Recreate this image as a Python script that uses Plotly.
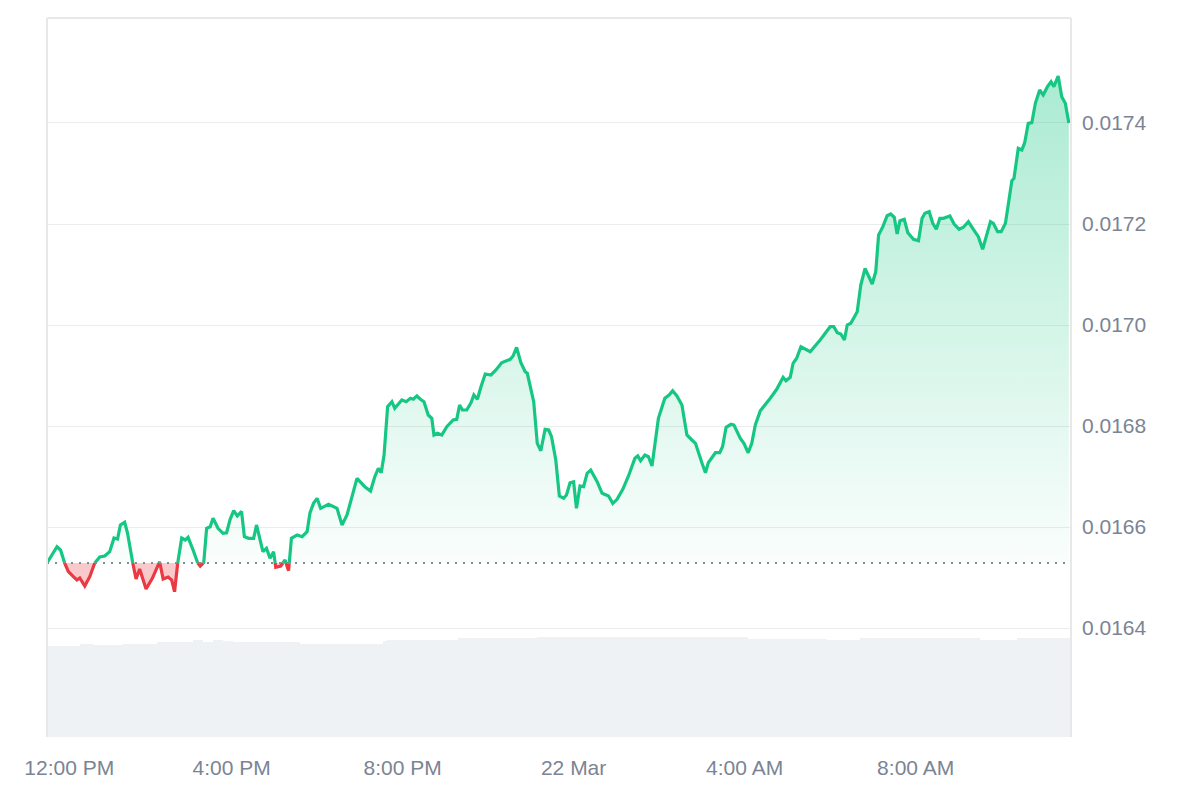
import pandas as pd
import plotly.graph_objects as go

# ---------------- data ----------------
start_time = "2025-03-21 11:41"
window_minutes = 1437  # visible 24h window

minutes = [
    0, 6, 14, 19, 24, 30, 37, 42, 46, 53,
    60, 67, 74, 81, 88, 94, 99, 103, 109, 113,
    120, 125, 130, 139, 148, 158, 163, 170, 175, 179,
    183, 189, 194, 198, 205, 210, 215, 220, 224, 229,
    233, 240, 247, 252, 257, 262, 267, 273, 277, 283,
    290, 294, 303, 308, 313, 318, 321, 328, 334, 339,
    343, 351, 358, 365, 369, 374, 379, 384, 395, 407,
    414, 421, 435, 446, 454, 460, 465, 469, 473, 478,
    484, 488, 498, 504, 510, 514, 519, 524, 529, 535,
    540, 543, 548, 554, 561, 570, 575, 579, 583, 589,
    595, 599, 604, 609, 615, 623, 630, 638, 650, 654,
    659, 665, 671, 674, 683, 688, 693, 699, 704, 708,
    714, 719, 725, 729, 734, 739, 743, 748, 753, 758,
    763, 772, 779, 788, 794, 800, 808, 816, 825, 829,
    833, 839, 844, 849, 853, 858, 867, 873, 878, 884,
    891, 898, 905, 910, 919, 924, 928, 938, 944, 948,
    953, 960, 964, 973, 978, 984, 989, 994, 1001, 1008,
    1015, 1024, 1033, 1037, 1043, 1047, 1052, 1058, 1071, 1085,
    1099, 1104, 1109, 1114, 1119, 1123, 1128, 1137, 1142, 1148,
    1154, 1158, 1163, 1167, 1173, 1179, 1184, 1189, 1193, 1197,
    1203, 1208, 1216, 1223, 1228, 1232, 1238, 1243, 1248, 1253,
    1258, 1263, 1267, 1273, 1280, 1286, 1293, 1300, 1307, 1313,
    1319, 1324, 1328, 1334, 1339, 1345, 1351, 1354, 1357, 1363,
    1368, 1372, 1377, 1382, 1387, 1393, 1398, 1404, 1409, 1413,
    1419, 1424, 1429, 1434,
]

prices = [
    0.0165287, 0.0165426, 0.0165610, 0.0165545, 0.0165313, 0.0165115, 0.0165016, 0.0164950, 0.0164990, 0.0164832,
    0.0165016, 0.0165287, 0.0165406, 0.0165426, 0.0165511, 0.0165782, 0.0165762, 0.0166040, 0.0166093, 0.0165881,
    0.0165313, 0.0164970, 0.0165168, 0.0164772, 0.0164990, 0.0165313, 0.0164970, 0.0165010, 0.0164950, 0.0164719,
    0.0165248, 0.0165782, 0.0165743, 0.0165796, 0.0165545, 0.0165313, 0.0165228, 0.0165301, 0.0165974, 0.0166006,
    0.0166172, 0.0165974, 0.0165875, 0.0165887, 0.0166152, 0.0166323, 0.0166218, 0.0166311, 0.0165808, 0.0165776,
    0.0165776, 0.0166040, 0.0165511, 0.0165578, 0.0165380, 0.0165511, 0.0165202, 0.0165228, 0.0165347, 0.0165135,
    0.0165776, 0.0165842, 0.0165808, 0.0165907, 0.0166277, 0.0166469, 0.0166568, 0.0166370, 0.0166449, 0.0166370,
    0.0166040, 0.0166238, 0.0166964, 0.0166798, 0.0166713, 0.0166996, 0.0167162, 0.0167075, 0.0167426, 0.0168382,
    0.0168481, 0.0168350, 0.0168515, 0.0168481, 0.0168549, 0.0168529, 0.0168594, 0.0168529, 0.0168481, 0.0168218,
    0.0168152, 0.0167822, 0.0167855, 0.0167822, 0.0167986, 0.0168119, 0.0168133, 0.0168416, 0.0168317, 0.0168317,
    0.0168461, 0.0168614, 0.0168529, 0.0168778, 0.0169030, 0.0169010, 0.0169109, 0.0169253, 0.0169321, 0.0169386,
    0.0169558, 0.0169253, 0.0169075, 0.0169044, 0.0168481, 0.0167657, 0.0167511, 0.0167935, 0.0167921, 0.0167788,
    0.0167327, 0.0166614, 0.0166568, 0.0166634, 0.0166877, 0.0166897, 0.0166370, 0.0166812, 0.0166798, 0.0167063,
    0.0167129, 0.0166897, 0.0166667, 0.0166614, 0.0166469, 0.0166549, 0.0166747, 0.0167010, 0.0167360, 0.0167406,
    0.0167313, 0.0167426, 0.0167392, 0.0167208, 0.0167590, 0.0168152, 0.0168549, 0.0168614, 0.0168699, 0.0168594,
    0.0168416, 0.0167822, 0.0167723, 0.0167657, 0.0167273, 0.0167075, 0.0167273, 0.0167471, 0.0167471, 0.0167590,
    0.0167974, 0.0168034, 0.0168020, 0.0167756, 0.0167657, 0.0167471, 0.0167657, 0.0168020, 0.0168303, 0.0168416,
    0.0168549, 0.0168727, 0.0168964, 0.0168897, 0.0168964, 0.0169242, 0.0169341, 0.0169570, 0.0169471, 0.0169703,
    0.0169966, 0.0169966, 0.0169848, 0.0169822, 0.0169703, 0.0170000, 0.0170034, 0.0170263, 0.0170792, 0.0171123,
    0.0170925, 0.0170812, 0.0171055, 0.0171782, 0.0171947, 0.0172164, 0.0172198, 0.0172133, 0.0171802, 0.0172065,
    0.0172093, 0.0171828, 0.0171697, 0.0171669, 0.0172113, 0.0172212, 0.0172244, 0.0172014, 0.0171895, 0.0172113,
    0.0172113, 0.0172145, 0.0172158, 0.0172000, 0.0171895, 0.0171935, 0.0172046, 0.0171895, 0.0171749, 0.0171499,
    0.0171782, 0.0172046, 0.0172014, 0.0171848, 0.0171848, 0.0172014, 0.0172574, 0.0172857, 0.0172905, 0.0173499,
    0.0173465, 0.0173610, 0.0173994, 0.0174006, 0.0174390, 0.0174653, 0.0174554, 0.0174719, 0.0174818, 0.0174719,
    0.0174931, 0.0174521, 0.0174390, 0.0174000,
]

# volume (rolling, arbitrary units) – segment edges in minutes from start
volume_edges = [0, 46, 65, 107, 154, 173, 205, 219, 233, 247, 261, 355, 472, 477,
                577, 688, 984, 1095, 1141, 1229, 1309, 1361, 1437]
volume = [12.70, 12.93, 12.80, 12.89, 13.17, 13.25, 13.49, 13.25, 13.49, 13.35, 13.17,
          12.89, 13.35, 13.49, 13.73, 13.95, 13.63, 13.49, 13.73, 13.81, 13.49, 13.73]

y_ticks = [0.0164, 0.0166, 0.0168, 0.0170, 0.0172, 0.0174]
y_tick_labels = ["0.0164", "0.0166", "0.0168", "0.0170", "0.0172", "0.0174"]
x_ticks = ["2025-03-21 12:00", "2025-03-21 16:00", "2025-03-21 20:00",
           "2025-03-22 00:00", "2025-03-22 04:00", "2025-03-22 08:00"]
x_tick_labels = ["\u00a0\u00a0\u00a012:00 PM", "4:00 PM", "8:00 PM", "22 Mar", "4:00 AM", "8:00 AM"]

GREEN = "#16c784"
RED = "#ea3943"

# ---------------- build ----------------
t0 = pd.Timestamp(start_time)
times = [t0 + pd.Timedelta(minutes=m) for m in minutes]
base = prices[0]

# insert baseline crossings so the line can change colour exactly at the threshold
X, Y = [], []
for i, p in enumerate(prices):
    if i > 0 and (prices[i - 1] - base) * (p - base) < 0:
        f = (base - prices[i - 1]) / (p - prices[i - 1])
        X.append(times[i - 1] + (times[i] - times[i - 1]) * f)
        Y.append(base)
    X.append(times[i])
    Y.append(p)

up = [max(v, base) for v in Y]
dn = [min(v, base) for v in Y]
g_line = [v if v >= base else None for v in Y]
r_line = [v if v <= base else None for v in Y]
base_line = [base] * len(X)

fig = go.Figure()

# volume
vol_x = [t0 + pd.Timedelta(minutes=m) for m in volume_edges[:-1]]
vol_w = [(volume_edges[i + 1] - volume_edges[i]) * 60000 for i in range(len(volume))]
fig.add_trace(go.Bar(x=vol_x, y=volume, width=vol_w, offset=0,
                     marker=dict(color="#eff2f5", line=dict(width=0)),
                     yaxis="y2", hoverinfo="skip"))

# green area
fig.add_trace(go.Scatter(x=X, y=base_line, mode="lines", line=dict(width=0),
                         hoverinfo="skip"))
fig.add_trace(go.Scatter(x=X, y=up, mode="lines", line=dict(width=0), fill="tonexty",
                         fillgradient=dict(type="vertical", start=base, stop=max(prices),
                                           colorscale=[[0, "rgba(22,199,132,0.02)"],
                                                       [1, "rgba(22,199,132,0.36)"]]),
                         hoverinfo="skip"))
# red area
fig.add_trace(go.Scatter(x=X, y=base_line, mode="lines", line=dict(width=0),
                         hoverinfo="skip"))
fig.add_trace(go.Scatter(x=X, y=dn, mode="lines", line=dict(width=0), fill="tonexty",
                         fillcolor="rgba(234,57,67,0.27)", hoverinfo="skip"))

# lines
fig.add_trace(go.Scatter(x=X, y=g_line, mode="lines", connectgaps=False,
                         line=dict(color=GREEN, width=3.2)))
fig.add_trace(go.Scatter(x=X, y=r_line, mode="lines", connectgaps=False,
                         line=dict(color=RED, width=3.2)))

end_time = t0 + pd.Timedelta(minutes=window_minutes)

fig.add_shape(type="line", xref="paper", x0=0, x1=1, yref="y", y0=base, y1=base,
              line=dict(color="#858a94", width=1.8, dash="2px,6px"), layer="above")
border = dict(color="#e8e8e8", width=2)
fig.add_shape(type="line", xref="paper", yref="paper", x0=0, x1=0, y0=0, y1=1, line=border)
fig.add_shape(type="line", xref="paper", yref="paper", x0=1, x1=1, y0=0, y1=1, line=border)
fig.add_shape(type="line", xref="paper", yref="paper", x0=0, x1=1, y0=1, y1=1, line=border)

fig.update_layout(
    width=1200, height=800,
    margin=dict(l=47, r=129, t=18, b=63, autoexpand=False),
    paper_bgcolor="white", plot_bgcolor="white",
    showlegend=False,
    font=dict(family="Liberation Sans, Arial, sans-serif", size=21, color="#7b8494"),
    xaxis=dict(type="date", range=[t0, end_time], tickvals=x_ticks, ticktext=x_tick_labels,
               showgrid=False, zeroline=False, showline=False, ticks="",
               ticklabelstandoff=16, automargin=False, fixedrange=True),
    yaxis=dict(side="right", range=[0.0161842, 0.0176079], tickvals=y_ticks,
               ticktext=y_tick_labels, showgrid=True, gridcolor="#ececec", gridwidth=1,
               zeroline=False, showline=False, ticks="", ticklabelstandoff=10,
               automargin=False),
    yaxis2=dict(overlaying="y", range=[0, 100], visible=False),
    bargap=0,
)

fig.write_html("out.html")
